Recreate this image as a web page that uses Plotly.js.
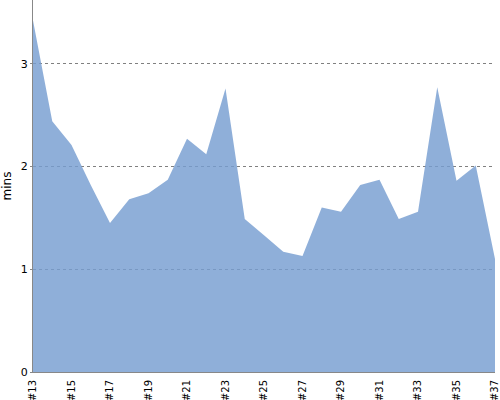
<!DOCTYPE html>
<html>
<head>
<meta charset="utf-8">
<script src="https://cdn.plot.ly/plotly-3.0.1.min.js"></script>
<style>html,body{margin:0;padding:0;background:#fff;}#chart{width:500px;height:400px;}</style>
</head>
<body>
<div id="chart"></div>
<script>
var categories = ["#13","#14","#15","#16","#17","#18","#19","#20","#21","#22","#23","#24","#25","#26","#27","#28","#29","#30","#31","#32","#33","#34","#35","#36","#37"];
var minutes = [3.42,2.44,2.21,1.82,1.45,1.68,1.74,1.87,2.27,2.12,2.76,1.49,1.33,1.17,1.13,1.60,1.56,1.82,1.87,1.49,1.56,2.77,1.86,2.01,1.10];
var tickLabels = ["#13","#15","#17","#19","#21","#23","#25","#27","#29","#31","#33","#35","#37"];

var trace = {
  x: categories,
  y: minutes,
  type: 'scatter',
  mode: 'lines',
  fill: 'tozeroy',
  fillcolor: 'rgba(118,158,209,0.82)',
  line: {width: 0, color: 'rgba(118,158,209,0.82)'},
  hoverinfo: 'none'
};

var layout = {
  width: 500, height: 400,
  margin: {l: 33, r: 5, t: 0, b: 28, pad: 0},
  paper_bgcolor: '#fff', plot_bgcolor: '#fff',
  showlegend: false,
  font: {family: 'DejaVu Sans, sans-serif', size: 10, color: '#000'},
  xaxis: {
    type: 'category',
    range: [0, categories.length - 1],
    tickmode: 'array', tickvals: tickLabels, ticktext: tickLabels,
    tickangle: -90,
    showgrid: false, zeroline: false,
    showline: true, linecolor: '#888', linewidth: 1,
    ticks: 'outside', ticklen: 3, tickcolor: 'rgba(0,0,0,0)',
    tickfont: {size: 10, color: '#000'}
  },
  yaxis: {
    range: [0, 3.62],
    tickvals: [0,1,2,3],
    showgrid: true, gridcolor: '#808080', griddash: 'dot', gridwidth: 1,
    zeroline: false,
    showline: true, linecolor: '#888', linewidth: 1,
    ticks: 'outside', ticklen: 2, tickcolor: '#888',
    tickfont: {size: 11, color: '#000'},
    title: {text: 'mins', font: {size: 12, color: '#000'}, standoff: 6}
  }
};

Plotly.newPlot('chart', [trace], layout, {staticPlot: true, displayModeBar: false});
</script>
</body>
</html>
